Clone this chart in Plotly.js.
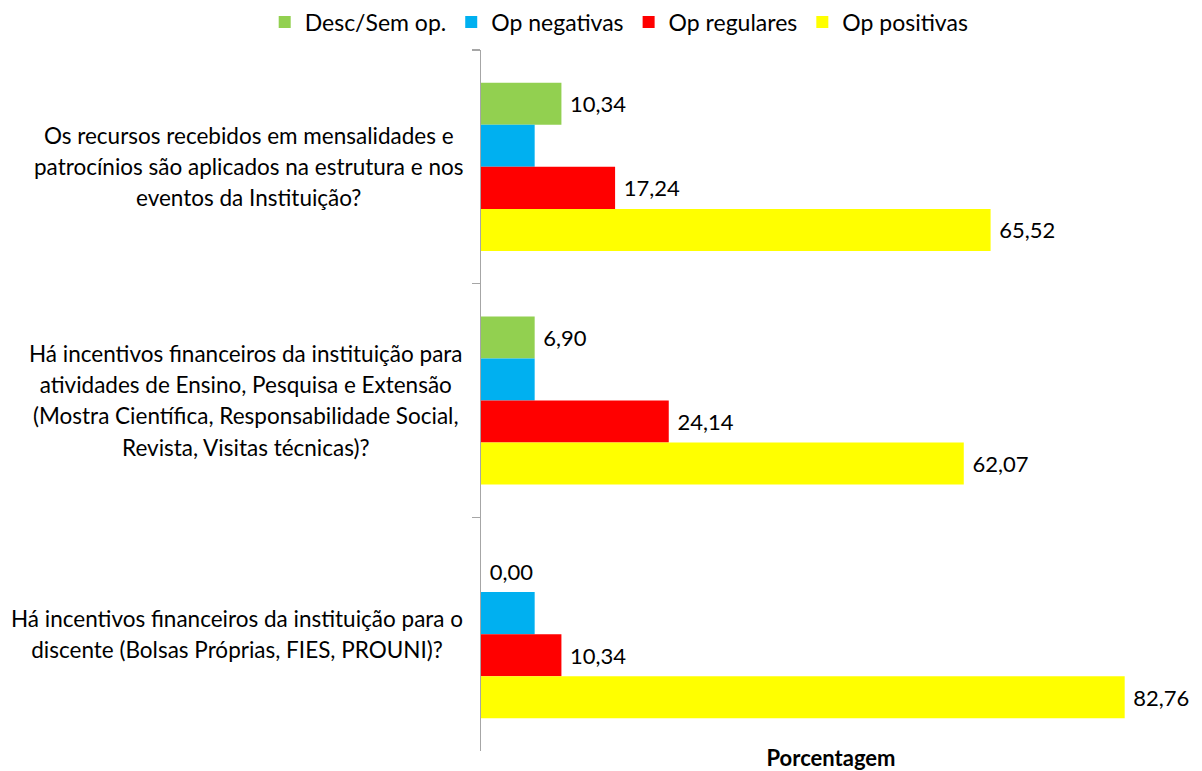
<!DOCTYPE html>
<html>
<head>
<meta charset="utf-8">
<script src="https://cdn.plot.ly/plotly-3.0.1.min.js"></script>
<style>
html,body{margin:0;padding:0;background:#fff;}
#chart{width:1202px;height:771px;}
#edge{position:absolute;left:6px;top:0;width:1px;height:771px;background:#bfbfbf;}
</style>
</head>
<body>
<div id="edge"></div>
<div id="chart"></div>
<script>
const categories = [
  "Os recursos recebidos em mensalidades e<br>patrocínios são aplicados na estrutura e nos<br>eventos da Instituição?",
  "Há incentivos financeiros da instituição para<br>atividades de Ensino, Pesquisa e Extensão<br>(Mostra Científica, Responsabilidade Social,<br>Revista, Visitas técnicas)?",
  "Há incentivos financeiros da instituição para o<br>discente (Bolsas Próprias, FIES, PROUNI)?"
];
const catKeys = ["Q1", "Q2", "Q3"];
const seriesNames = ["Desc/Sem op.", "Op negativas", "Op regulares", "Op positivas"];
const descSemOp = [10.34, 6.90, 0.00];
const opNegativas = [6.90, 6.90, 6.90];
const opRegulares = [17.24, 24.14, 10.34];
const opPositivas = [65.52, 62.07, 82.76];
const showLabels = [true, false, true, true];
const colors = ["#92D050", "#00B0F0", "#FF0000", "#FFFF00"];
const xTitle = "Porcentagem";

const FONT = "Lato, 'Open Sans', sans-serif";
const seriesValues = [descSemOp, opNegativas, opRegulares, opPositivas];

const traces = seriesValues.map((vals, i) => ({
  type: "bar",
  orientation: "h",
  name: seriesNames[i],
  x: vals,
  y: catKeys,
  marker: {color: colors[i]},
  texttemplate: showLabels[i] ? "\u00a0%{x:.2f}" : "",
  textposition: showLabels[i] ? "outside" : "none",
  textfont: {family: FONT, size: 22, color: "#000"},
  cliponaxis: false,
  hoverinfo: "x+name"
}));

const annotations = categories.map((c, i) => ({
  xref: "paper", yref: "y",
  x: 0, y: catKeys[i],
  xanchor: "right", yanchor: "middle",
  xshift: -16,
  align: "center",
  showarrow: false,
  text: c.split("<br>").map(s => '<span style="font-size:22.5px">' + s + '</span>').join("<br>"),
  font: {family: FONT, size: 24, color: "#000"}
}));

const layout = {
  width: 1202, height: 771,
  margin: {l: 481, r: 21, t: 50, b: 20, autoexpand: false},
  paper_bgcolor: "#fff", plot_bgcolor: "#fff",
  separators: ",.",
  barmode: "group",
  bargap: 0.28,
  bargroupgap: 0,
  showlegend: true,
  legend: {
    orientation: "h", xref: "paper", x: -0.309, xanchor: "left",
    yref: "paper", y: 1.04, yanchor: "middle",
    font: {family: FONT, size: 23, color: "#000"},
    traceorder: "normal", itemwidth: 30
  },
  xaxis: {
    range: [0, 90], showgrid: false, zeroline: false, showline: false,
    showticklabels: false, ticks: "",
    title: {text: "<b>" + xTitle + "</b>", font: {family: FONT, size: 22, color: "#000"}, standoff: 0}
  },
  yaxis: {
    autorange: "reversed", showgrid: false, zeroline: false,
    showline: true, linecolor: "#a6a6a6", linewidth: 1.5,
    ticks: "outside", tickson: "boundaries", ticklen: 8, tickcolor: "#a6a6a6", tickwidth: 1.5,
    showticklabels: false
  },
  annotations: annotations,
  font: {family: FONT}
};

Plotly.newPlot("chart", traces, layout, {displayModeBar: false, staticPlot: true});
</script>
</body>
</html>
